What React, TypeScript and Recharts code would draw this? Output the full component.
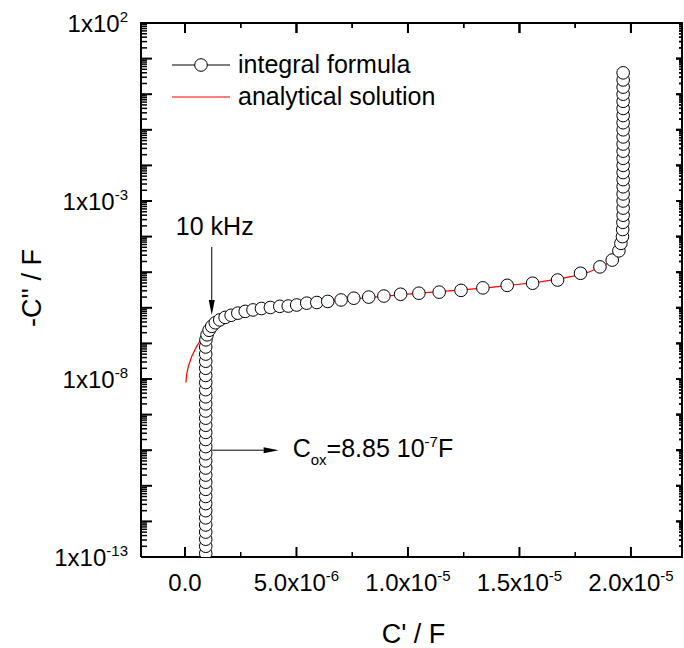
import React from 'react';
import { ComposedChart, Scatter, Line, XAxis, YAxis, ReferenceLine, CartesianGrid } from 'recharts';

// ---- data (C' in F, -C'' in F) ----
const integralCp = [
  9.3e-7, 9.3e-7, 9.3e-7, 9.3e-7, 9.3e-7, 9.3e-7, 9.3e-7, 9.3e-7, 9.3e-7, 9.3e-7,
  9.3e-7, 9.3e-7, 9.3e-7, 9.3e-7, 9.3e-7, 9.3e-7, 9.3e-7, 9.3e-7, 9.3e-7, 9.3e-7,
  9.3e-7, 9.3e-7, 9.3e-7, 9.3e-7, 9.3e-7, 9.3e-7, 9.3e-7, 9.3e-7, 9.3e-7, 9.3e-7, 9.4e-7,
  0.99e-6, 1.08e-6, 1.2e-6, 1.36e-6, 1.56e-6, 1.8e-6, 2.07e-6, 2.37e-6, 2.7e-6, 3.05e-6,
  3.43e-6, 3.83e-6, 4.25e-6, 4.63e-6, 5.01e-6, 5.46e-6, 5.91e-6, 6.4e-6, 7.0e-6, 7.57e-6,
  8.24e-6, 8.92e-6, 9.67e-6, 10.49e-6, 11.4e-6, 12.38e-6, 13.36e-6, 14.45e-6, 15.59e-6, 16.71e-6,
  17.74e-6, 18.61e-6, 19.16e-6, 19.46e-6, 19.55e-6,
  19.62e-6, 19.63e-6, 19.64e-6, 19.65e-6, 19.65e-6, 19.65e-6, 19.65e-6, 19.65e-6, 19.65e-6, 19.65e-6,
  19.65e-6, 19.65e-6, 19.65e-6, 19.65e-6, 19.65e-6, 19.65e-6, 19.65e-6, 19.65e-6, 19.65e-6, 19.65e-6,
  19.65e-6, 19.65e-6, 19.65e-6, 19.65e-6,
];
const integralCpp = [
  1.26e-13, 2.0e-13, 3.16e-13, 5.01e-13, 7.94e-13, 1.26e-12, 2.0e-12, 3.16e-12, 5.01e-12, 7.94e-12,
  1.26e-11, 2.0e-11, 3.16e-11, 5.01e-11, 7.94e-11, 1.26e-10, 2.0e-10, 3.16e-10, 5.01e-10, 7.94e-10,
  1.26e-9, 2.0e-9, 3.16e-9, 5.01e-9, 7.94e-9, 1.26e-8, 2.0e-8, 3.16e-8, 5.01e-8, 7.94e-8, 1.26e-7,
  1.74e-7, 2.34e-7, 3.02e-7, 3.8e-7, 4.57e-7, 5.37e-7, 6.17e-7, 7.08e-7, 7.94e-7, 8.71e-7,
  9.55e-7, 1.02e-6, 1.1e-6, 1.12e-6, 1.2e-6, 1.35e-6, 1.41e-6, 1.51e-6, 1.66e-6, 1.86e-6,
  2.0e-6, 2.14e-6, 2.4e-6, 2.57e-6, 2.75e-6, 3.09e-6, 3.63e-6, 4.27e-6, 4.9e-6, 6.03e-6,
  9.33e-6, 1.41e-5, 2.19e-5, 3.98e-5, 6.46e-5,
  1.0e-4, 1.58e-4, 2.51e-4, 3.98e-4, 6.31e-4, 1.0e-3, 1.58e-3, 2.51e-3, 3.98e-3, 6.31e-3,
  1.0e-2, 1.58e-2, 2.51e-2, 3.98e-2, 6.31e-2, 0.1, 0.158, 0.251, 0.398, 0.631,
  1.0, 1.58, 2.51, 3.98,
];
const analyticCp = [
  0.04e-6, 0.08e-6, 0.15e-6, 0.3e-6, 0.52e-6, 0.75e-6, 1.05e-6, 1.42e-6, 1.8e-6, 2.17e-6,
  2.91e-6, 3.6e-6, 4.41e-6, 5.91e-6, 7.4e-6, 9.0e-6, 10.5e-6, 12.0e-6, 13.5e-6, 14.7e-6,
  15.92e-6, 16.8e-6, 17.41e-6, 18.1e-6, 18.61e-6, 19.13e-6, 19.51e-6, 19.69e-6, 19.75e-6, 19.77e-6,
  19.78e-6, 19.78e-6, 19.78e-6, 19.78e-6,
];
const analyticCpp = [
  7.94e-9, 1.41e-8, 2.24e-8, 4.27e-8, 8.13e-8, 1.38e-7, 2.14e-7, 2.95e-7, 3.72e-7, 4.57e-7,
  6.31e-7, 7.94e-7, 9.77e-7, 1.35e-6, 1.74e-6, 2.14e-6, 2.57e-6, 3.02e-6, 3.63e-6, 4.37e-6,
  5.37e-6, 6.46e-6, 7.76e-6, 1.0e-5, 1.38e-5, 2.0e-5, 3.02e-5, 5.25e-5, 1.0e-4, 3.16e-4,
  1.32e-3, 3.16e-2, 1.0, 3.89,
];

// ---- axes ----
const X_DOMAIN: [number, number] = [-1.973e-6, 2.229e-5];
const Y_DOMAIN: [number, number] = [1e-13, 1e2];
const xMajorTicks = [0, 5e-6, 1e-5, 1.5e-5, 2e-5];
const xMajorMantissa = ['0.0', '5.0x10', '1.0x10', '1.5x10', '2.0x10'];
const xMajorExponent = ['', '-6', '-5', '-5', '-5'];
const xMinorTicks = [2.5e-6, 7.5e-6, 1.25e-5, 1.75e-5];
const yDecadeExponents = [-13, -12, -11, -10, -9, -8, -7, -6, -5, -4, -3, -2, -1, 0, 1, 2];
const yLabelExponents = [2, -3, -8, -13];
const yMinorMantissas = [2, 3, 4, 5, 6, 7, 8, 9];

const legendLabels = ['integral formula', 'analytical solution'];
const annotation10k = '10 kHz';

const xTicks = [...xMajorTicks, ...xMinorTicks].sort((a, b) => a - b);
const yTicks: number[] = [];
yDecadeExponents.forEach((e) => {
  yTicks.push(Number(Math.pow(10, e).toPrecision(6)));
  if (e < 2) yMinorMantissas.forEach((m) => yTicks.push(Number((m * Math.pow(10, e)).toPrecision(6))));
});

const decadeOf = (v: number) => {
  const lg = Math.log10(v);
  const r = Math.round(lg);
  return Math.abs(lg - r) < 1e-6 ? r : null;
};

const FONT = '"Liberation Sans", Arial, sans-serif';
const TICK_FS = 24;
const SUP_FS = 15;

const BottomTick = (p: any) => {
  const { x, y, payload } = p;
  const i = xMajorTicks.indexOf(payload.value);
  const major = i >= 0;
  return (
    <g>
      <line x1={x} x2={x} y1={y} y2={y - (major ? 10 : 5)} stroke="#000" strokeWidth={major ? 2 : 1.5} />
      {major && (
        <text x={x} y={y + 34} textAnchor="middle" fontSize={TICK_FS} fill="#000" fontFamily={FONT}>
          {xMajorMantissa[i]}
          {xMajorExponent[i] && (
            <tspan dy={-10} fontSize={SUP_FS}>{xMajorExponent[i]}</tspan>
          )}
        </text>
      )}
    </g>
  );
};

const TopTick = (p: any) => {
  const { x, y, payload } = p;
  const major = xMajorTicks.indexOf(payload.value) >= 0;
  return <line x1={x} x2={x} y1={y} y2={y + (major ? 10 : 5)} stroke="#000" strokeWidth={major ? 2 : 1.5} />;
};

const LeftTick = (p: any) => {
  const { x, y, payload } = p;
  const d = decadeOf(payload.value);
  const isDecade = d !== null;
  const labeled = isDecade && yLabelExponents.indexOf(d as number) >= 0;
  return (
    <g>
      <line x1={x} x2={x + (isDecade ? 11 : 6)} y1={y} y2={y} stroke="#000" strokeWidth={isDecade ? 2 : 1.5} />
      {labeled && (
        <text x={x - 13} y={y + 9} textAnchor="end" fontSize={TICK_FS} fill="#000" fontFamily={FONT}>
          1x10
          <tspan dy={-10} fontSize={SUP_FS}>{String(d)}</tspan>
        </text>
      )}
    </g>
  );
};

const RightTick = (p: any) => {
  const { x, y, payload } = p;
  const isDecade = decadeOf(payload.value) !== null;
  return <line x1={x} x2={x - (isDecade ? 6 : 3)} y1={y} y2={y} stroke="#000" strokeWidth={isDecade ? 2 : 1.5} />;
};

const makeDownTick = (len: number, w: number) => (p: any) => (
  <line x1={p.x1} x2={p.x1} y1={p.y1} y2={p.y1 + len} stroke="#000" strokeWidth={w} />
);
const makeLeftTick = (len: number, w: number) => (p: any) => (
  <line x1={p.x1} x2={p.x1 - len} y1={p.y1} y2={p.y1} stroke="#000" strokeWidth={w} />
);
const FrameEdge = (p: any) => (
  <line x1={p.x1} y1={p.y1} x2={p.x2} y2={p.y2} stroke="#000" strokeWidth={2} strokeLinecap="square" />
);

const Circle = (p: any) => (
  <circle cx={p.cx} cy={p.cy} r={6.3} fill="#fff" stroke="#000" strokeWidth={1} />
);
const NoShape = () => <g />;

const arrowHead = (x1: number, y1: number, x2: number, y2: number, len = 15, hw = 3) => {
  const dx = x2 - x1, dy = y2 - y1;
  const L = Math.sqrt(dx * dx + dy * dy) || 1;
  const ux = dx / L, uy = dy / L;
  const bx = x2 - ux * len, by = y2 - uy * len;
  return {
    bx, by,
    pts: `${x2},${y2} ${bx - uy * hw},${by + ux * hw} ${bx + uy * hw},${by - ux * hw}`,
  };
};

const KhzArrow = (p: any) => {
  const { x1, y1, x2, y2 } = p;
  const h = arrowHead(x1, y1, x2, y2);
  return (
    <g>
      <line x1={x1} y1={y1} x2={h.bx} y2={h.by} stroke="#000" strokeWidth={1} />
      <polygon points={h.pts} fill="#000" />
      <text x={x1 + 3} y={y1 - 12} textAnchor="middle" fontSize={25} fill="#000" fontFamily={FONT}>
        {annotation10k}
      </text>
    </g>
  );
};

const CoxArrow = (p: any) => {
  const { x1, y1, x2, y2 } = p;
  const h = arrowHead(x1, y1, x2, y2);
  return (
    <g>
      <line x1={x1} y1={y1} x2={h.bx} y2={h.by} stroke="#000" strokeWidth={1} />
      <polygon points={h.pts} fill="#000" />
      <text x={x2 + 14} y={y2 + 7} fontSize={25} fill="#000" fontFamily={FONT}>
        C
        <tspan dy={8} fontSize={SUP_FS}>ox</tspan>
        <tspan dy={-8}>=8.85 10</tspan>
        <tspan dy={-10} fontSize={SUP_FS}>-7</tspan>
        <tspan dy={10}>F</tspan>
      </text>
    </g>
  );
};

const XTitle = (p: any) => {
  const vb = p.viewBox || { x: 141, y: 557, width: 541, height: 91 };
  return (
    <text x={vb.x + vb.width / 2 + 2} y={vb.y + 86} textAnchor="middle" fontSize={27} fill="#000" fontFamily={FONT}>
      C' / F
    </text>
  );
};

const YTitle = (p: any) => {
  const vb = p.viewBox || { x: 0, y: 23, width: 141, height: 534 };
  const cx = 41;
  const cy = vb.y + vb.height / 2 - 2;
  return (
    <text x={cx} y={cy} transform={`rotate(-90 ${cx} ${cy})`} textAnchor="middle" fontSize={27} fill="#000" fontFamily={FONT}>
      -C'' / F
    </text>
  );
};

export default function App() {
  const integral = integralCp.map((x, i) => ({ x, y: integralCpp[i] }));
  const analytic = analyticCp.map((x, i) => ({ x, y: analyticCpp[i] }));
  const axisLine = { stroke: '#000', strokeWidth: 2 };
  const [x0, x1] = X_DOMAIN;
  const [y0, y1] = Y_DOMAIN;
  return (
    <div style={{ position: 'absolute', left: 0, top: 0, width: 684, height: 648, background: '#fff', fontFamily: FONT }}>
      <ComposedChart width={684} height={648} margin={{ top: 22, right: 1, bottom: 0, left: 0 }}>
        <CartesianGrid xAxisId="b" yAxisId="l" stroke="#000" strokeWidth={2} fill="none"
          horizontalCoordinatesGenerator={(g: any) => [g.offset.top]}
          verticalCoordinatesGenerator={(g: any) => [g.offset.left + g.offset.width]} />
        <XAxis xAxisId="b" orientation="bottom" type="number" dataKey="x" domain={X_DOMAIN} allowDataOverflow
          ticks={xTicks} interval={0} tickSize={0} tickMargin={0} tickLine={false} axisLine={axisLine}
          tick={BottomTick} height={91} label={XTitle} />
        <XAxis xAxisId="t" orientation="top" type="number" dataKey="x" domain={X_DOMAIN} allowDataOverflow
          ticks={xTicks} interval={0} tickSize={0} tickMargin={0} tickLine={false} axisLine={axisLine}
          tick={TopTick} height={1} />
        <YAxis yAxisId="l" orientation="left" type="number" scale="log" dataKey="y" domain={Y_DOMAIN} allowDataOverflow
          ticks={yTicks} interval={0} tickSize={0} tickMargin={0} tickLine={false} axisLine={axisLine}
          tick={LeftTick} width={141} label={YTitle} />
        <YAxis yAxisId="r" orientation="right" type="number" scale="log" dataKey="y" domain={Y_DOMAIN} allowDataOverflow
          ticks={yTicks} interval={0} tickSize={0} tickMargin={0} tickLine={false} axisLine={axisLine}
          tick={RightTick} width={1} />
        <Scatter xAxisId="t" yAxisId="r" data={integral} dataKey="y" shape={NoShape} isAnimationActive={false} legendType="none" />
        <Scatter xAxisId="b" yAxisId="l" data={integral} dataKey="y" shape={Circle} isAnimationActive={false} />
        <Line xAxisId="b" yAxisId="l" data={analytic} dataKey="y" type="linear" stroke="#ff0000" strokeWidth={1.2}
          dot={false} activeDot={false} isAnimationActive={false} />
        <ReferenceLine xAxisId="b" yAxisId="l" segment={[{ x: 1.2e-6, y: 5.1e-5 }, { x: 1.2e-6, y: 6.3e-7 }]}
          shape={KhzArrow} ifOverflow="visible" />
        <ReferenceLine xAxisId="b" yAxisId="l" segment={[{ x: 1.2e-6, y: 1e-10 }, { x: 4.2e-6, y: 1e-10 }]}
          shape={CoxArrow} ifOverflow="visible" />
        <ReferenceLine xAxisId="b" yAxisId="l" segment={[{ x: x0, y: y1 }, { x: x1, y: y1 }]}
          shape={FrameEdge} ifOverflow="visible" />
        <ReferenceLine xAxisId="b" yAxisId="l" segment={[{ x: x1, y: y1 }, { x: x1, y: y0 }]}
          shape={FrameEdge} ifOverflow="visible" />
        {xTicks.map((v) => {
          const major = xMajorTicks.indexOf(v) >= 0;
          return (
            <ReferenceLine key={'tx' + v} xAxisId="b" yAxisId="l" segment={[{ x: v, y: y1 }, { x: v, y: y1 }]}
              shape={makeDownTick(major ? 10 : 5, major ? 2 : 1.5)} ifOverflow="visible" />
          );
        })}
        {yTicks.map((v) => {
          const dec = decadeOf(v) !== null;
          return (
            <ReferenceLine key={'ty' + v} xAxisId="b" yAxisId="l" segment={[{ x: x1, y: v }, { x: x1, y: v }]}
              shape={makeLeftTick(dec ? 6 : 3, dec ? 2 : 1.5)} ifOverflow="visible" />
          );
        })}
      </ComposedChart>
      <svg width={684} height={648} style={{ position: 'absolute', left: 0, top: 0, pointerEvents: 'none' }}>
        <line x1={172} x2={230} y1={65} y2={65} stroke="#000" strokeWidth={1} />
        <circle cx={201} cy={65} r={6.3} fill="#fff" stroke="#000" strokeWidth={1} />
        <text x={238} y={73} fontSize={25} fill="#000" fontFamily={FONT}>{legendLabels[0]}</text>
        <line x1={172} x2={230} y1={97} y2={97} stroke="#ff0000" strokeWidth={1.2} />
        <text x={238} y={105} fontSize={25} fill="#000" fontFamily={FONT}>{legendLabels[1]}</text>
      </svg>
    </div>
  );
}
